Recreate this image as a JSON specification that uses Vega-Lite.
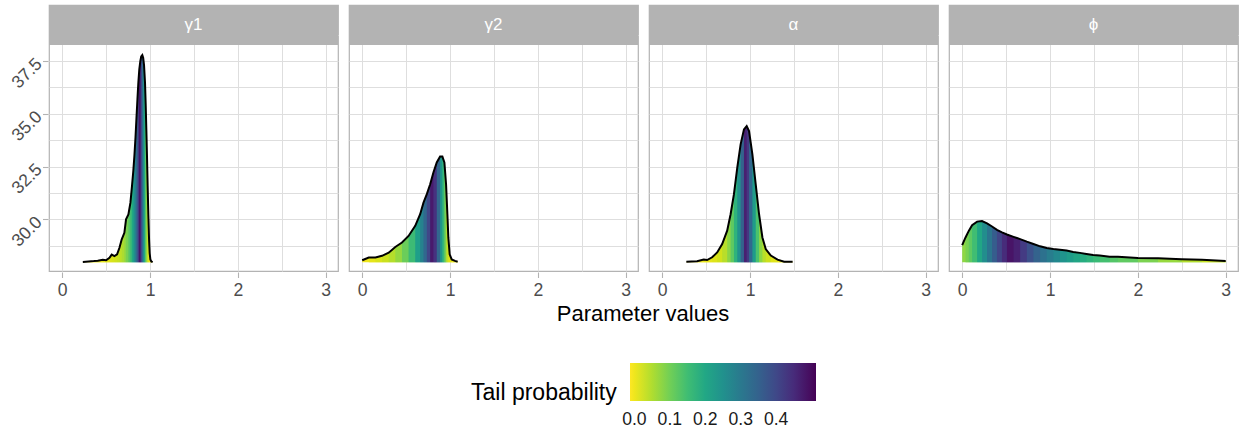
{
  "$schema": "https://vega.github.io/schema/vega-lite/v6.json",
  "padding": {"left": 0, "top": 4, "right": 0, "bottom": 0},
  "data": {"values": [
    {"param": "γ1", "x": 0.235, "y": 27.98, "tail": 0},
    {"param": "γ1", "x": 0.3, "y": 28.0, "tail": 0.001},
    {"param": "γ1", "x": 0.36, "y": 28.02, "tail": 0.003},
    {"param": "γ1", "x": 0.405, "y": 28.04, "tail": 0.005},
    {"param": "γ1", "x": 0.462, "y": 28.08, "tail": 0.008},
    {"param": "γ1", "x": 0.5, "y": 28.06, "tail": 0.011},
    {"param": "γ1", "x": 0.538, "y": 28.18, "tail": 0.014},
    {"param": "γ1", "x": 0.564, "y": 28.33, "tail": 0.019},
    {"param": "γ1", "x": 0.595, "y": 28.26, "tail": 0.025},
    {"param": "γ1", "x": 0.625, "y": 28.34, "tail": 0.031},
    {"param": "γ1", "x": 0.652, "y": 28.65, "tail": 0.039},
    {"param": "γ1", "x": 0.678, "y": 29.05, "tail": 0.052},
    {"param": "γ1", "x": 0.708, "y": 29.36, "tail": 0.074},
    {"param": "γ1", "x": 0.727, "y": 30.0, "tail": 0.094},
    {"param": "γ1", "x": 0.754, "y": 30.23, "tail": 0.128},
    {"param": "γ1", "x": 0.777, "y": 30.79, "tail": 0.163},
    {"param": "γ1", "x": 0.795, "y": 31.58, "tail": 0.197},
    {"param": "γ1", "x": 0.81, "y": 32.3, "tail": 0.232},
    {"param": "γ1", "x": 0.822, "y": 33.0, "tail": 0.265},
    {"param": "γ1", "x": 0.835, "y": 33.9, "tail": 0.307},
    {"param": "γ1", "x": 0.845, "y": 34.74, "tail": 0.345},
    {"param": "γ1", "x": 0.857, "y": 35.7, "tail": 0.396},
    {"param": "γ1", "x": 0.867, "y": 36.47, "tail": 0.443},
    {"param": "γ1", "x": 0.878, "y": 37.1, "tail": 0.499},
    {"param": "γ1", "x": 0.89, "y": 37.5, "tail": 0.433},
    {"param": "γ1", "x": 0.9, "y": 37.72, "tail": 0.376},
    {"param": "γ1", "x": 0.912, "y": 37.78, "tail": 0.307},
    {"param": "γ1", "x": 0.922, "y": 37.65, "tail": 0.25},
    {"param": "γ1", "x": 0.932, "y": 37.3, "tail": 0.194},
    {"param": "γ1", "x": 0.943, "y": 36.47, "tail": 0.136},
    {"param": "γ1", "x": 0.951, "y": 35.4, "tail": 0.098},
    {"param": "γ1", "x": 0.958, "y": 34.26, "tail": 0.07},
    {"param": "γ1", "x": 0.966, "y": 32.9, "tail": 0.044},
    {"param": "γ1", "x": 0.973, "y": 31.58, "tail": 0.026},
    {"param": "γ1", "x": 0.981, "y": 30.2, "tail": 0.012},
    {"param": "γ1", "x": 0.989, "y": 29.05, "tail": 0.005},
    {"param": "γ1", "x": 0.996, "y": 28.4, "tail": 0.002},
    {"param": "γ1", "x": 1.004, "y": 28.1, "tail": 0.001},
    {"param": "γ1", "x": 1.015, "y": 28.0, "tail": 0},
    {"param": "γ1", "x": 1.03, "y": 27.97, "tail": 0},

    {"param": "γ2", "x": 0.0, "y": 28.06, "tail": 0},
    {"param": "γ2", "x": 0.075, "y": 28.19, "tail": 0.007},
    {"param": "γ2", "x": 0.151, "y": 28.19, "tail": 0.017},
    {"param": "γ2", "x": 0.226, "y": 28.27, "tail": 0.028},
    {"param": "γ2", "x": 0.302, "y": 28.42, "tail": 0.045},
    {"param": "γ2", "x": 0.377, "y": 28.69, "tail": 0.07},
    {"param": "γ2", "x": 0.453, "y": 28.9, "tail": 0.106},
    {"param": "γ2", "x": 0.528, "y": 29.21, "tail": 0.153},
    {"param": "γ2", "x": 0.604, "y": 29.69, "tail": 0.218},
    {"param": "γ2", "x": 0.66, "y": 30.24, "tail": 0.282},
    {"param": "γ2", "x": 0.698, "y": 30.79, "tail": 0.337},
    {"param": "γ2", "x": 0.736, "y": 31.19, "tail": 0.403},
    {"param": "γ2", "x": 0.774, "y": 31.66, "tail": 0.478},
    {"param": "γ2", "x": 0.811, "y": 32.22, "tail": 0.438},
    {"param": "γ2", "x": 0.849, "y": 32.69, "tail": 0.34},
    {"param": "γ2", "x": 0.887, "y": 32.97, "tail": 0.234},
    {"param": "γ2", "x": 0.913, "y": 32.97, "tail": 0.16},
    {"param": "γ2", "x": 0.936, "y": 32.69, "tail": 0.096},
    {"param": "γ2", "x": 0.955, "y": 31.66, "tail": 0.05},
    {"param": "γ2", "x": 0.97, "y": 30.24, "tail": 0.025},
    {"param": "γ2", "x": 0.981, "y": 29.13, "tail": 0.014},
    {"param": "γ2", "x": 0.996, "y": 28.34, "tail": 0.007},
    {"param": "γ2", "x": 1.019, "y": 28.1, "tail": 0.003},
    {"param": "γ2", "x": 1.057, "y": 28.03, "tail": 0.001},
    {"param": "γ2", "x": 1.087, "y": 27.99, "tail": 0},

    {"param": "α", "x": 0.275, "y": 27.99, "tail": 0},
    {"param": "α", "x": 0.397, "y": 28.01, "tail": 0.002},
    {"param": "α", "x": 0.473, "y": 28.09, "tail": 0.005},
    {"param": "α", "x": 0.511, "y": 28.07, "tail": 0.007},
    {"param": "α", "x": 0.569, "y": 28.2, "tail": 0.013},
    {"param": "α", "x": 0.626, "y": 28.43, "tail": 0.023},
    {"param": "α", "x": 0.683, "y": 28.83, "tail": 0.043},
    {"param": "α", "x": 0.74, "y": 29.46, "tail": 0.078},
    {"param": "α", "x": 0.779, "y": 30.24, "tail": 0.117},
    {"param": "α", "x": 0.817, "y": 31.19, "tail": 0.172},
    {"param": "α", "x": 0.855, "y": 32.45, "tail": 0.248},
    {"param": "α", "x": 0.893, "y": 33.55, "tail": 0.349},
    {"param": "α", "x": 0.931, "y": 34.26, "tail": 0.468},
    {"param": "α", "x": 0.962, "y": 34.42, "tail": 0.428},
    {"param": "α", "x": 0.989, "y": 34.18, "tail": 0.338},
    {"param": "α", "x": 1.027, "y": 33.08, "tail": 0.225},
    {"param": "α", "x": 1.065, "y": 31.66, "tail": 0.137},
    {"param": "α", "x": 1.103, "y": 30.24, "tail": 0.078},
    {"param": "α", "x": 1.141, "y": 29.14, "tail": 0.044},
    {"param": "α", "x": 1.179, "y": 28.59, "tail": 0.026},
    {"param": "α", "x": 1.237, "y": 28.28, "tail": 0.012},
    {"param": "α", "x": 1.313, "y": 28.09, "tail": 0.003},
    {"param": "α", "x": 1.389, "y": 27.99, "tail": 0.001},
    {"param": "α", "x": 1.485, "y": 27.99, "tail": 0},

    {"param": "ϕ", "x": 0.0, "y": 28.78, "tail": 0.075},
    {"param": "ϕ", "x": 0.038, "y": 29.14, "tail": 0.094},
    {"param": "ϕ", "x": 0.075, "y": 29.45, "tail": 0.118},
    {"param": "ϕ", "x": 0.113, "y": 29.72, "tail": 0.149},
    {"param": "ϕ", "x": 0.17, "y": 29.89, "tail": 0.202},
    {"param": "ϕ", "x": 0.226, "y": 29.92, "tail": 0.256},
    {"param": "ϕ", "x": 0.283, "y": 29.81, "tail": 0.31},
    {"param": "ϕ", "x": 0.34, "y": 29.66, "tail": 0.361},
    {"param": "ϕ", "x": 0.396, "y": 29.5, "tail": 0.406},
    {"param": "ϕ", "x": 0.453, "y": 29.38, "tail": 0.448},
    {"param": "ϕ", "x": 0.509, "y": 29.28, "tail": 0.486},
    {"param": "ϕ", "x": 0.585, "y": 29.17, "tail": 0.466},
    {"param": "ϕ", "x": 0.66, "y": 29.06, "tail": 0.423},
    {"param": "ϕ", "x": 0.736, "y": 28.94, "tail": 0.384},
    {"param": "ϕ", "x": 0.811, "y": 28.83, "tail": 0.349},
    {"param": "ϕ", "x": 0.887, "y": 28.72, "tail": 0.318},
    {"param": "ϕ", "x": 0.962, "y": 28.64, "tail": 0.292},
    {"param": "ϕ", "x": 1.038, "y": 28.59, "tail": 0.267},
    {"param": "ϕ", "x": 1.113, "y": 28.56, "tail": 0.245},
    {"param": "ϕ", "x": 1.189, "y": 28.52, "tail": 0.223},
    {"param": "ϕ", "x": 1.264, "y": 28.45, "tail": 0.203},
    {"param": "ϕ", "x": 1.34, "y": 28.41, "tail": 0.186},
    {"param": "ϕ", "x": 1.415, "y": 28.36, "tail": 0.17},
    {"param": "ϕ", "x": 1.491, "y": 28.31, "tail": 0.156},
    {"param": "ϕ", "x": 1.566, "y": 28.28, "tail": 0.144},
    {"param": "ϕ", "x": 1.679, "y": 28.23, "tail": 0.128},
    {"param": "ϕ", "x": 1.773, "y": 28.23, "tail": 0.116},
    {"param": "ϕ", "x": 2.0, "y": 28.17, "tail": 0.091},
    {"param": "ϕ", "x": 2.23, "y": 28.16, "tail": 0.068},
    {"param": "ϕ", "x": 2.5, "y": 28.11, "tail": 0.046},
    {"param": "ϕ", "x": 2.73, "y": 28.08, "tail": 0.031},
    {"param": "ϕ", "x": 3.0, "y": 28.03, "tail": 0.02}
  ]},
  "facet": {
    "column": {
      "field": "param",
      "type": "nominal",
      "sort": ["γ1", "γ2", "α", "ϕ"],
      "header": {
        "labels": false,
        "title": "Parameter values",
        "titleOrient": "bottom",
        "titleFont": "Liberation Sans",
        "titleFontSize": 22,
        "titleFontWeight": "normal",
        "titleColor": "black",
        "titlePadding": -6
      }
    }
  },
  "spacing": 9,
  "spec": {
    "width": 289,
    "height": 266,
    "layer": [
      {
        "transform": [{"aggregate": [{"op": "count", "as": "n"}], "groupby": ["param"]}],
        "mark": {"type": "rect", "color": "#b3b3b3", "clip": true},
        "encoding": {
          "x": {"datum": -1, "type": "quantitative",
            "scale": {"domain": [-0.15, 3.14], "nice": false, "zero": false},
            "axis": {"title": null, "grid": true, "labelOverlap": false, "labelPadding": 4, "tickOpacity": {"condition": {"test": "datum.value % 1 === 0", "value": 1}, "value": 0}, "values": [0, 0.5, 1, 1.5, 2, 2.5, 3], "labelExpr": "datum.value % 1 === 0 ? format(datum.value, 'd') : ''"}},
          "x2": {"datum": 5},
          "y": {"datum": 38.258, "type": "quantitative",
            "scale": {"domain": [27.551, 40.153], "nice": false, "zero": false},
            "axis": {"title": null, "grid": true, "labelOverlap": false, "labelPadding": 3.5, "tickOpacity": {"condition": {"test": "datum.value % 2.5 === 0", "value": 1}, "value": 0}, "labelAngle": -45, "minExtent": 48, "maxExtent": 48, "values": [28.75, 30, 31.25, 32.5, 33.75, 35, 36.25, 37.5, 38.75], "labelExpr": "datum.value % 2.5 === 0 ? format(datum.value, '.1f') : ''"}},
          "y2": {"datum": 42}
        }
      },
      {
        "transform": [{"aggregate": [{"op": "count", "as": "n"}], "groupby": ["param"]}],
        "mark": {"type": "text", "color": "white", "fontSize": 17, "font": "Liberation Sans", "baseline": "middle", "align": "center"},
        "encoding": {
          "x": {"datum": 1.495, "type": "quantitative",
            "axis": {"title": null, "grid": true, "labelOverlap": false, "labelPadding": 4, "tickOpacity": {"condition": {"test": "datum.value % 1 === 0", "value": 1}, "value": 0}, "values": [0, 0.5, 1, 1.5, 2, 2.5, 3], "labelExpr": "datum.value % 1 === 0 ? format(datum.value, 'd') : ''"}},
          "y": {"datum": 39.206, "type": "quantitative",
            "axis": {"title": null, "grid": true, "labelOverlap": false, "labelPadding": 3.5, "tickOpacity": {"condition": {"test": "datum.value % 2.5 === 0", "value": 1}, "value": 0}, "labelAngle": -45, "minExtent": 48, "maxExtent": 48, "values": [28.75, 30, 31.25, 32.5, 33.75, 35, 36.25, 37.5, 38.75], "labelExpr": "datum.value % 2.5 === 0 ? format(datum.value, '.1f') : ''"}},
          "text": {"field": "param", "type": "nominal"}
        }
      },
      {
        "transform": [
          {"window": [{"op": "lag", "field": "x", "as": "xp1"}, {"op": "lag", "field": "x", "param": 2, "as": "xp2"}], "groupby": ["param"], "sort": [{"field": "x", "order": "ascending"}]},
          {"fold": ["x", "xp1", "xp2"], "as": ["role", "seg"]},
          {"filter": "datum.seg != null"}
        ],
        "mark": {"type": "area", "interpolate": "linear"},
        "encoding": {
          "x": {"field": "x", "type": "quantitative",
            "axis": {"title": null, "grid": true, "labelOverlap": false, "labelPadding": 4, "tickOpacity": {"condition": {"test": "datum.value % 1 === 0", "value": 1}, "value": 0}, "values": [0, 0.5, 1, 1.5, 2, 2.5, 3], "labelExpr": "datum.value % 1 === 0 ? format(datum.value, 'd') : ''"}},
          "y": {"field": "y", "type": "quantitative", "stack": null,
            "axis": {"title": null, "grid": true, "labelOverlap": false, "labelPadding": 3.5, "tickOpacity": {"condition": {"test": "datum.value % 2.5 === 0", "value": 1}, "value": 0}, "labelAngle": -45, "minExtent": 48, "maxExtent": 48, "values": [28.75, 30, 31.25, 32.5, 33.75, 35, 36.25, 37.5, 38.75], "labelExpr": "datum.value % 2.5 === 0 ? format(datum.value, '.1f') : ''"}},
          "y2": {"datum": 27.97},
          "detail": {"field": "seg", "type": "nominal"},
          "color": {
            "aggregate": "min",
            "field": "tail", "type": "quantitative",
            "scale": {"scheme": "viridis", "reverse": true, "domain": [-0.0125, 0.5125], "nice": false, "zero": false},
            "legend": {
              "type": "gradient",
              "title": "Tail probability",
              "orient": "none",
              "legendX": 422,
              "legendY": 358,
              "direction": "horizontal",
              "values": [0, 0.1, 0.2, 0.3, 0.4],
              "format": ".1f",
              "gradientLength": 186,
              "gradientThickness": 38,
              "gradientStrokeWidth": 0,
              "titleOrient": "left",
              "titleFont": "Liberation Sans",
              "titleFontSize": 23,
              "titleFontWeight": "normal",
              "titleColor": "black",
              "titlePadding": 13,
              "titleAnchor": "middle",
              "titleBaseline": "top",
              "titleLimit": 400,
              "labelFont": "Liberation Sans",
              "labelFontSize": 17.6,
              "labelColor": "#1a1a1a",
              "labelOffset": 10
            }
          }
        }
      },
      {
        "mark": {"type": "line", "color": "black", "strokeWidth": 2, "interpolate": "linear"},
        "encoding": {
          "x": {"field": "x", "type": "quantitative",
            "axis": {"title": null, "grid": true, "labelOverlap": false, "labelPadding": 4, "tickOpacity": {"condition": {"test": "datum.value % 1 === 0", "value": 1}, "value": 0}, "values": [0, 0.5, 1, 1.5, 2, 2.5, 3], "labelExpr": "datum.value % 1 === 0 ? format(datum.value, 'd') : ''"}},
          "y": {"field": "y", "type": "quantitative",
            "axis": {"title": null, "grid": true, "labelOverlap": false, "labelPadding": 3.5, "tickOpacity": {"condition": {"test": "datum.value % 2.5 === 0", "value": 1}, "value": 0}, "labelAngle": -45, "minExtent": 48, "maxExtent": 48, "values": [28.75, 30, 31.25, 32.5, 33.75, 35, 36.25, 37.5, 38.75], "labelExpr": "datum.value % 2.5 === 0 ? format(datum.value, '.1f') : ''"}}
        }
      }
    ]
  },
  "config": {
    "font": "Liberation Sans",
    "view": {"stroke": "#b3b3b3", "strokeWidth": 1.2},
    "axis": {
      "domain": false,
      "tickColor": "#b3b3b3",
      "tickSize": 5.5,
      "tickWidth": 1.1,
      "labelColor": "#4d4d4d",
      "labelFont": "Liberation Sans",
      "labelFontSize": 17.6,
      "gridColor": "#dedede",
      "gridWidth": 1
    }
  }
}
